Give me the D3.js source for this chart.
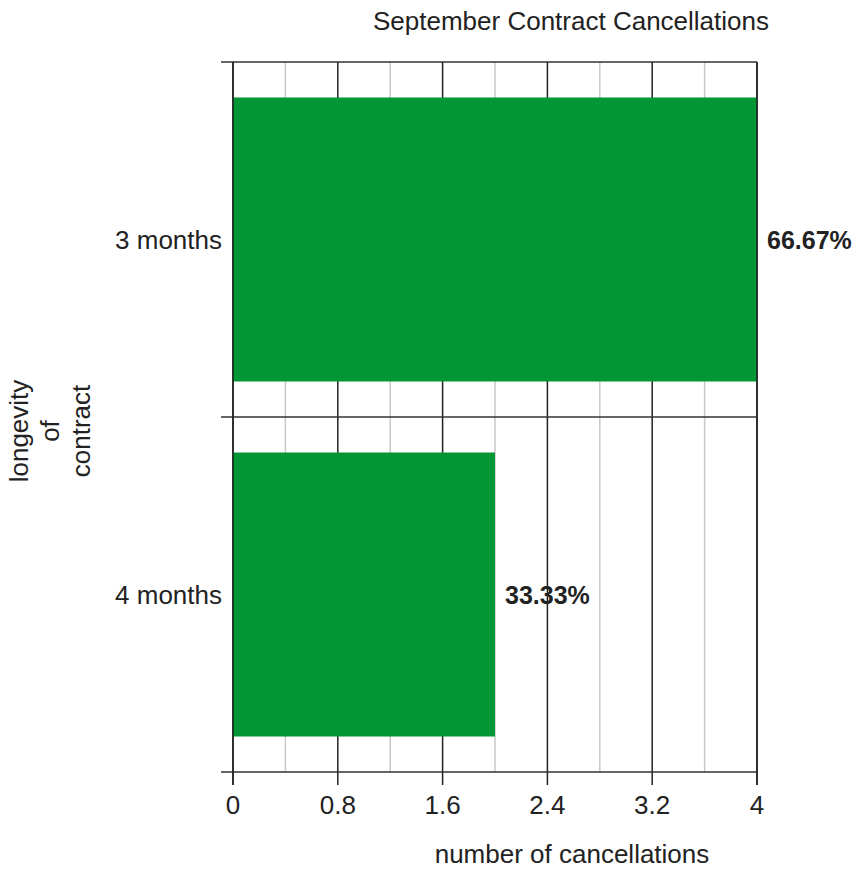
<!DOCTYPE html>
<html>
<head>
<meta charset="utf-8">
<script src="https://cdn.jsdelivr.net/npm/d3@7"></script>
<style>
  body { margin: 0; background: #fff; }
  text { font-family: "Liberation Sans", Arial, sans-serif; fill: #222; }
</style>
</head>
<body>
<svg id="chart" width="866" height="877"></svg>
<script>
// Contract cancellations in September by contract length
const categories = ["3 months", "4 months"];
const cancellations = [4, 2];
const shareLabels = ["66.67%", "33.33%"];
const majorTicks = [0, 0.8, 1.6, 2.4, 3.2, 4];
const minorTicks = [0.4, 1.2, 2.0, 2.8, 3.6];
const tickLabels = ["0", "0.8", "1.6", "2.4", "3.2", "4"];

const svg = d3.select("#chart");
const plotLeft = 233, plotRight = 757, plotTop = 62, plotBottom = 772;
const fontSize = 26;

const x = d3.scaleLinear().domain([0, 4]).range([plotLeft, plotRight]);
const y = d3.scaleBand().domain(categories).range([plotTop, plotBottom])
  .paddingInner(0.2).paddingOuter(0.1);

// Value labels sit beneath the grid
svg.append("g").selectAll("text")
  .data(categories)
  .join("text")
  .attr("x", (d, i) => x(cancellations[i]) + 10)
  .attr("y", d => y(d) + y.bandwidth() / 2 + 9)
  .attr("font-size", 25)
  .attr("font-weight", "bold")
  .text((d, i) => shareLabels[i]);

// Minor grid
svg.append("g").selectAll("line")
  .data(minorTicks)
  .join("line")
  .attr("x1", d => x(d)).attr("x2", d => x(d))
  .attr("y1", plotTop).attr("y2", plotBottom)
  .attr("stroke", "#c8c8c8").attr("stroke-width", 1.5);

// Major grid, extending into tick marks below the axis
svg.append("g").selectAll("line")
  .data(majorTicks)
  .join("line")
  .attr("x1", d => x(d)).attr("x2", d => x(d))
  .attr("y1", plotTop).attr("y2", plotBottom + 13)
  .attr("stroke", "#222").attr("stroke-width", 1.5);

// Category boundaries and frame
const bounds = [plotTop, plotTop + y.step(), plotBottom];
svg.append("g").selectAll("line")
  .data(bounds)
  .join("line")
  .attr("x1", plotLeft - 12).attr("x2", plotRight)
  .attr("y1", d => d).attr("y2", d => d)
  .attr("stroke", "#333").attr("stroke-width", 1.5);

// Bars
svg.append("g").selectAll("rect")
  .data(categories)
  .join("rect")
  .attr("x", x(0))
  .attr("y", d => y(d))
  .attr("width", (d, i) => x(cancellations[i]) - x(0))
  .attr("height", y.bandwidth())
  .attr("fill", "#039634");

// Axis lines drawn over the bars
[plotLeft, plotRight].forEach(px => {
  svg.append("line")
    .attr("x1", px).attr("x2", px)
    .attr("y1", plotTop).attr("y2", plotBottom + 13)
    .attr("stroke", "#222").attr("stroke-width", 1.5);
});

// Category labels
svg.append("g").selectAll("text")
  .data(categories)
  .join("text")
  .attr("x", plotLeft - 11)
  .attr("y", d => y(d) + y.bandwidth() / 2 + 9)
  .attr("text-anchor", "end")
  .attr("font-size", fontSize)
  .text(d => d);

// X tick labels
svg.append("g").selectAll("text")
  .data(majorTicks)
  .join("text")
  .attr("x", d => x(d))
  .attr("y", 814)
  .attr("text-anchor", "middle")
  .attr("font-size", fontSize)
  .text((d, i) => tickLabels[i]);

// Titles
svg.append("text")
  .attr("x", 571).attr("y", 30)
  .attr("text-anchor", "middle")
  .attr("font-size", fontSize)
  .text("September Contract Cancellations");

svg.append("text")
  .attr("x", 572).attr("y", 863)
  .attr("text-anchor", "middle")
  .attr("font-size", fontSize)
  .text("number of cancellations");

const yTitle = svg.append("text")
  .attr("transform", "translate(28,431) rotate(-90)")
  .attr("text-anchor", "middle")
  .attr("font-size", fontSize);
["longevity", "of", "contract"].forEach((w, i) => {
  yTitle.append("tspan").attr("x", 0).attr("dy", i === 0 ? 0 : 31).text(w);
});
</script>
</body>
</html>
